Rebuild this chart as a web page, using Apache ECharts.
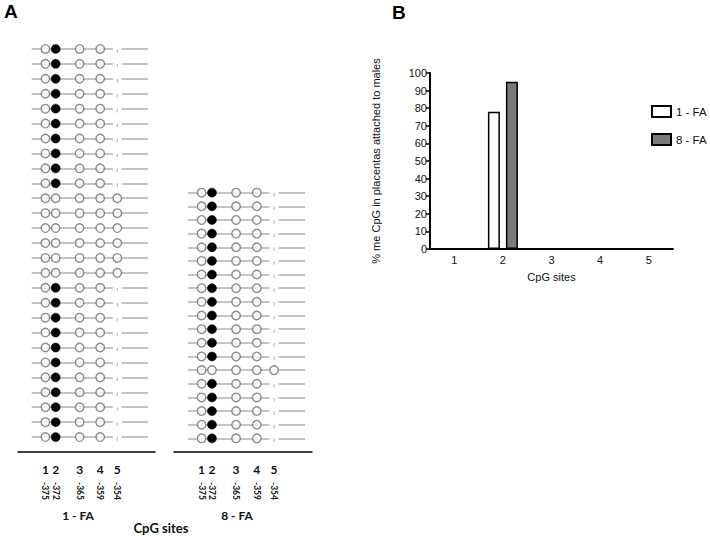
<!DOCTYPE html>
<html>
<head>
<meta charset="utf-8">
<script src="https://cdn.jsdelivr.net/npm/echarts@6/dist/echarts.min.js"></script>
<style>html,body{margin:0;padding:0;background:#fff;}#c{width:710px;height:536px;}</style>
</head>
<body>
<div id="c"></div>
<script>
// ---- data ----
const groups = ['1 - FA', '8 - FA'];
const cpgSites = ['1', '2', '3', '4', '5'];
const cpgPositions = [-375, -372, -365, -359, -354];
// per clone: state of CpG 1..5 (1 = methylated, 0 = unmethylated, null = not shown)
const rows1FA = [
  [0,1,0,0,null],[0,1,0,0,null],[0,1,0,0,null],[0,1,0,0,null],[0,1,0,0,null],
  [0,1,0,0,null],[0,1,0,0,null],[0,1,0,0,null],[0,1,0,0,null],[0,1,0,0,null],
  [0,0,0,0,0],[0,0,0,0,0],[0,0,0,0,0],[0,0,0,0,0],[0,0,0,0,0],[0,0,0,0,0],
  [0,1,0,0,null],[0,1,0,0,null],[0,1,0,0,null],[0,1,0,0,null],[0,1,0,0,null],
  [0,1,0,0,null],[0,1,0,0,null],[0,1,0,0,null],[0,1,0,0,null],[0,1,0,0,null],
  [0,1,0,0,null]
];
const rows8FA = [
  [0,1,0,0,null],[0,1,0,0,null],[0,1,0,0,null],[0,1,0,0,null],[0,1,0,0,null],
  [0,1,0,0,null],[0,1,0,0,null],[0,1,0,0,null],[0,1,0,0,null],[0,1,0,0,null],
  [0,1,0,0,null],[0,1,0,0,null],[0,1,0,0,null],
  [0,0,0,0,0],
  [0,1,0,0,null],[0,1,0,0,null],[0,1,0,0,null],[0,1,0,0,null],[0,1,0,0,null]
];
// panel B: % methylated CpG
const pct1FA = [0, 78, 0, 0, 0];
const pct8FA = [0, 95, 0, 0, 0];
const yTicks = [0, 10, 20, 30, 40, 50, 60, 70, 80, 90, 100];

// ---- helpers (styling constants) ----
const lineStart = -379, lineEnd = -345, gapHalf = 1.3;
function buildPanel(rows) {
  const open = [], filled = [], marks = [], segs = [];
  rows.forEach((row, r) => {
    let missingAt = null;
    row.forEach((v, s) => {
      const p = [cpgPositions[s], r];
      if (v === 1) filled.push(p);
      else if (v === 0) open.push(p);
      else { marks.push(p); missingAt = cpgPositions[s]; }
    });
    if (missingAt === null) {
      segs.push({coords: [[lineStart, r], [lineEnd, r]]});
    } else {
      segs.push({coords: [[lineStart, r], [missingAt - gapHalf, r]]});
      segs.push({coords: [[missingAt + gapHalf, r], [lineEnd, r]]});
    }
  });
  return {open, filled, marks, segs};
}
const p1 = buildPanel(rows1FA);
const p8 = buildPanel(rows8FA);

const fA = 'Lato, "Open Sans", sans-serif';
const fB = '"Liberation Sans", Arial, sans-serif';

function panelSeries(p, idx) {
  return [
    {type: 'lines', coordinateSystem: 'cartesian2d', xAxisIndex: idx * 2, yAxisIndex: idx,
     data: p.segs, lineStyle: {color: '#b0b0b0', width: 1.6, opacity: 1}, z: 1, silent: true, animation: false},
    {type: 'scatter', xAxisIndex: idx * 2, yAxisIndex: idx, data: p.marks, symbol: 'rect',
     symbolSize: [1.2, 3.5], symbolOffset: [0, 2], itemStyle: {color: '#aaa'}, z: 2, animation: false},
    {type: 'scatter', xAxisIndex: idx * 2, yAxisIndex: idx, data: p.open, symbol: 'circle', symbolSize: 8.5,
     itemStyle: {color: '#fff', borderColor: '#707070', borderWidth: 1.4}, z: 3, animation: false},
    {type: 'scatter', xAxisIndex: idx * 2, yAxisIndex: idx, data: p.filled, symbol: 'circle', symbolSize: 9,
     itemStyle: {color: '#000', borderColor: '#000', borderWidth: 0.5, opacity: 1}, z: 3, animation: false}
  ];
}

function siteAxes(gi) {
  return [
    {gridIndex: gi, type: 'value', min: -383, max: -343, position: 'bottom',
     axisLine: {show: true, onZero: false, lineStyle: {color: '#000', width: 1.5}}, axisTick: {show: false}, splitLine: {show: false},
     axisLabel: {customValues: cpgPositions, formatter: v => cpgSites[cpgPositions.indexOf(v)],
       fontSize: 12, fontWeight: 'bold', color: '#111', fontFamily: fA, margin: 11}},
    {gridIndex: gi, type: 'value', min: -383, max: -343, position: 'bottom', offset: 22,
     axisLine: {show: false, onZero: false}, axisTick: {show: false}, splitLine: {show: false},
     axisLabel: {customValues: cpgPositions, formatter: v => String(v), rotate: -90,
       fontSize: 8.5, fontWeight: 'bold', color: '#111', fontFamily: fA, margin: 8}}
  ];
}

const chart = echarts.init(document.getElementById('c'), null, {renderer: 'svg'});
chart.setOption({
  animation: false,
  backgroundColor: '#fff',
  grid: [
    {left: 18, top: 34, width: 137, height: 418},
    {left: 174, top: 179, width: 138, height: 273},
    {left: 430, top: 73, width: 243, height: 176}
  ],
  xAxis: [
    ...siteAxes(0),
    ...siteAxes(1),
    {gridIndex: 2, type: 'category', data: cpgSites,
     axisLine: {lineStyle: {color: '#000', width: 2}}, axisTick: {show: false},
     axisLabel: {color: '#111', fontSize: 11, fontFamily: fB, margin: 5},
     name: 'CpG sites', nameLocation: 'middle', nameGap: 22,
     nameTextStyle: {color: '#111', fontSize: 11, fontFamily: fB}}
  ],
  yAxis: [
    {gridIndex: 0, type: 'value', inverse: true, min: -1, max: 27, show: false},
    {gridIndex: 1, type: 'value', inverse: true, min: -1, max: 19, show: false},
    {gridIndex: 2, type: 'value', min: 0, max: 100, interval: 10,
     axisLine: {show: true, lineStyle: {color: '#000', width: 2}},
     axisTick: {show: true, length: 4, lineStyle: {color: '#000', width: 1.5}},
     splitLine: {show: false},
     axisLabel: {color: '#111', fontSize: 11, fontFamily: fB, margin: 3,
       customValues: yTicks},
     name: '% me CpG in placentas attached to males', nameLocation: 'middle', nameGap: 49,
     nameTextStyle: {color: '#111', fontSize: 11, fontFamily: fB}}
  ],
  legend: {
    data: groups, orient: 'vertical', left: 651, top: 105, padding: 0, icon: 'rect',
    itemWidth: 19, itemHeight: 11, itemGap: 15,
    textStyle: {color: '#111', fontSize: 11.5, fontFamily: fB}, selectedMode: false
  },
  series: [
    ...panelSeries(p1, 0),
    ...panelSeries(p8, 1),
    {name: groups[0], type: 'bar', xAxisIndex: 4, yAxisIndex: 2, data: pct1FA, barWidth: 12, barGap: '50%',
     itemStyle: {color: '#fff', borderColor: '#000', borderWidth: 1.5}},
    {name: groups[1], type: 'bar', xAxisIndex: 4, yAxisIndex: 2, data: pct8FA, barWidth: 12, barGap: '50%',
     itemStyle: {color: '#7a7a7a', borderColor: '#000', borderWidth: 1.5}}
  ],
  graphic: [
    {type: 'text', left: 4, top: 2, style: {text: 'A', fill: '#000', font: 'bold 19px "Liberation Sans", Arial'}},
    {type: 'text', left: 392, top: 3, style: {text: 'B', fill: '#000', font: 'bold 19px "Liberation Sans", Arial'}},
    {type: 'text', x: 78, y: 515, style: {text: groups[0], fill: '#111', textAlign: 'center', textVerticalAlign: 'middle', font: 'bold 12px Lato, "Open Sans", sans-serif'}},
    {type: 'text', x: 237, y: 515, style: {text: groups[1], fill: '#111', textAlign: 'center', textVerticalAlign: 'middle', font: 'bold 12px Lato, "Open Sans", sans-serif'}},
    {type: 'text', x: 161, y: 528, style: {text: 'CpG sites', fill: '#111', textAlign: 'center', textVerticalAlign: 'middle', font: 'bold 13px Lato, "Open Sans", sans-serif'}}
  ]
});
</script>
</body>
</html>
